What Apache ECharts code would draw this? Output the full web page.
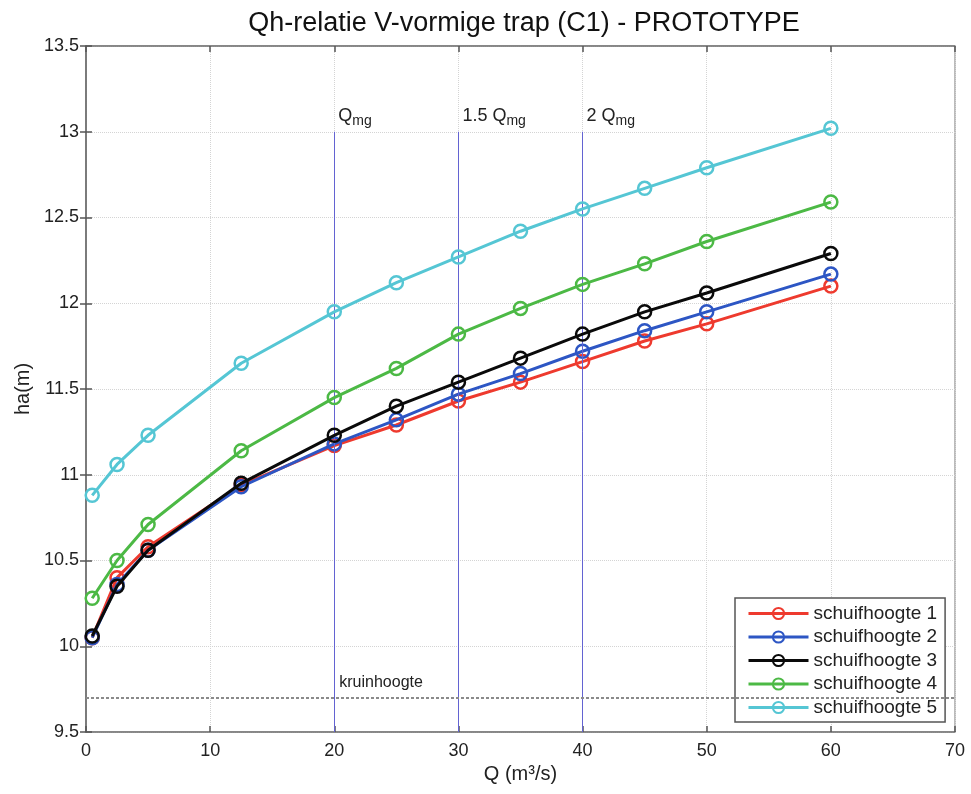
<!DOCTYPE html>
<html>
<head>
<meta charset="utf-8">
<script src="https://cdn.jsdelivr.net/npm/echarts@6/dist/echarts.min.js"></script>
<style>html,body{margin:0;padding:0;background:#fff}#chart{width:971px;height:794px}</style>
</head>
<body>
<div id="chart"></div>
<script>
const qValues = [0.5, 2.5, 5, 12.5, 20, 25, 30, 35, 40, 45, 50, 60];
const schuif1 = [10.05, 10.40, 10.58, 10.94, 11.17, 11.29, 11.43, 11.54, 11.66, 11.78, 11.88, 12.10];
const schuif2 = [10.05, 10.36, 10.56, 10.93, 11.18, 11.32, 11.47, 11.59, 11.72, 11.84, 11.95, 12.17];
const schuif3 = [10.06, 10.35, 10.56, 10.95, 11.23, 11.40, 11.54, 11.68, 11.82, 11.95, 12.06, 12.29];
const schuif4 = [10.28, 10.50, 10.71, 11.14, 11.45, 11.62, 11.82, 11.97, 12.11, 12.23, 12.36, 12.59];
const schuif5 = [10.88, 11.06, 11.23, 11.65, 11.95, 12.12, 12.27, 12.42, 12.55, 12.67, 12.79, 13.02];
const seriesNames = ['schuifhoogte 1', 'schuifhoogte 2', 'schuifhoogte 3', 'schuifhoogte 4', 'schuifhoogte 5'];
const seriesColors = ['#ee3a2e', '#2d56c4', '#0a0a0a', '#4cb945', '#55c6d4'];
const refQ = [20, 30, 40];
const refPrefix = ['', '1.5 ', '2 '];
const refTop = 13;
const kruinHoogte = 9.7;
const kruinLabelQ = 20;
const xMin = 0, xMax = 70, xStep = 10;
const yMin = 9.5, yMax = 13.5, yStep = 0.5;

const FONT = 'Liberation Sans, Arial, Helvetica, sans-serif';
const allData = [schuif1, schuif2, schuif3, schuif4, schuif5];

const lineSeries = allData.map((vals, i) => ({
  name: seriesNames[i],
  type: 'line',
  data: qValues.map((q, j) => [q, vals[j]]),
  symbol: 'circle',
  symbolSize: 13,
  lineStyle: { color: seriesColors[i], width: 3 },
  itemStyle: { color: 'rgba(255,255,255,0)', borderColor: seriesColors[i], borderWidth: 2.5 },
  emphasis: { disabled: true },
  z: 3 + i
}));

const refSeries = {
  name: 'ref',
  type: 'line',
  data: [],
  silent: true,
  markLine: {
    silent: true,
    symbol: ['none', 'none'],
    label: { show: false },
    data: refQ.map(q => [
      { coord: [q, yMin], lineStyle: { color: '#6363d2', width: 1, type: 'solid' } },
      { coord: [q, refTop] }
    ]).concat([[
      { coord: [xMin, kruinHoogte], lineStyle: { color: '#8a8a8a', width: 2, type: [3, 2] } },
      { coord: [xMax, kruinHoogte] }
    ]])
  },
  markPoint: {
    silent: true,
    symbol: 'circle',
    symbolSize: 0,
    data: refQ.map((q, i) => ({
      coord: [q, refTop],
      label: {
        show: true, position: 'right', distance: 4, offset: [0, -16],
        formatter: '{q|' + refPrefix[i] + 'Q}{s|mg}',
        rich: {
          q: { fontSize: 18, fontFamily: FONT, color: '#222' },
          s: { fontSize: 14, fontFamily: FONT, color: '#222', padding: [10, 0, 0, 0] }
        }
      }
    })).concat([{
      coord: [kruinLabelQ, kruinHoogte],
      label: {
        show: true, position: 'right', distance: 5, offset: [0, -15],
        formatter: 'kruinhoogte', fontSize: 16, fontFamily: FONT, color: '#222'
      }
    }])
  },
  z: 2
};

const chart = echarts.init(document.getElementById('chart'), null, { renderer: 'canvas' });
chart.setOption({
  animation: false,
  backgroundColor: '#fff',
  title: {
    text: 'Qh-relatie V-vormige trap (C1) - PROTOTYPE',
    left: 519, top: 5, textAlign: 'center',
    textStyle: { fontFamily: FONT, fontSize: 27, fontWeight: 'normal', color: '#111' }
  },
  grid: { left: 86, right: 16, top: 46, bottom: 62, show: true, borderColor: '#777', borderWidth: 1, backgroundColor: '#fff' },
  legend: {
    data: seriesNames,
    orient: 'vertical',
    left: 735, top: 598,
    padding: [6, 8, 5, 12],
    itemWidth: 60, itemHeight: 14, itemGap: 4.5,
    backgroundColor: '#fff',
    borderColor: '#555', borderWidth: 1.5,
    lineStyle: { width: 3 },
    textStyle: { fontFamily: FONT, fontSize: 19, color: '#222' },
    selectedMode: false
  },
  xAxis: [{
    type: 'value', min: xMin, max: xMax, interval: xStep,
    name: 'Q (m³/s)', nameLocation: 'middle', nameGap: 32,
    nameTextStyle: { fontFamily: FONT, fontSize: 20, color: '#222' },
    axisLine: { show: true, lineStyle: { color: '#777', width: 1.5 } },
    axisTick: { show: true, inside: true, length: 6, lineStyle: { color: '#555', width: 1.5 } },
    axisLabel: { fontFamily: FONT, fontSize: 18, color: '#222', margin: 10 },
    splitLine: { show: true, lineStyle: { color: '#d4d4d4', type: 'dotted', width: 1 } }
  }, {
    type: 'value', min: xMin, max: xMax, interval: xStep, position: 'top',
    axisLine: { show: true, lineStyle: { color: '#777', width: 1.5 } },
    axisTick: { show: true, inside: true, length: 6, lineStyle: { color: '#555', width: 1.5 } },
    axisLabel: { show: false }, splitLine: { show: false }
  }],
  yAxis: [{
    type: 'value', min: yMin, max: yMax, interval: yStep,
    name: 'ha(m)', nameLocation: 'middle', nameGap: 52,
    nameTextStyle: { fontFamily: FONT, fontSize: 20, color: '#222' },
    axisLine: { show: true, lineStyle: { color: '#777', width: 1.5 } },
    axisTick: { show: true, inside: true, length: 6, lineStyle: { color: '#555', width: 1.5 } },
    axisLabel: { fontFamily: FONT, fontSize: 18, color: '#222', margin: 7, formatter: v => String(v) },
    splitLine: { show: true, lineStyle: { color: '#d4d4d4', type: 'dotted', width: 1 } }
  }, {
    type: 'value', min: yMin, max: yMax, interval: yStep, position: 'right',
    axisLine: { show: true, lineStyle: { color: '#777', width: 1.5 } },
    axisTick: { show: true, inside: true, length: 6, lineStyle: { color: '#555', width: 1.5 } },
    axisLabel: { show: false }, splitLine: { show: false }
  }],
  series: [refSeries].concat(lineSeries)
});
</script>
</body>
</html>
